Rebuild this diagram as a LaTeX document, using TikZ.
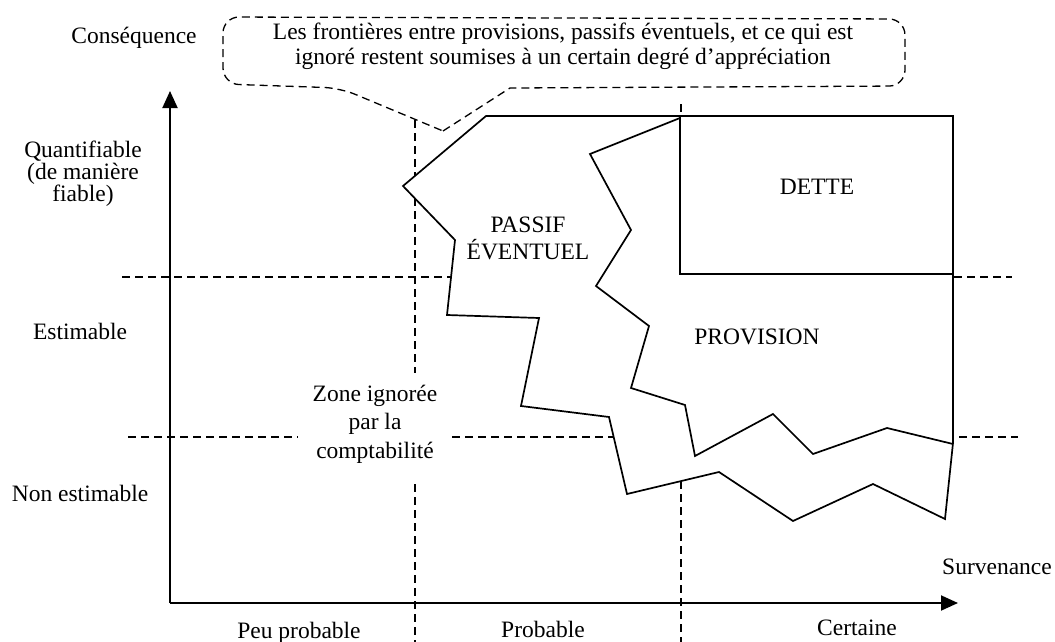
\documentclass[tikz,border=0pt]{standalone}
\usepackage{fontspec}
\setmainfont{Liberation Serif}
\usetikzlibrary{arrows.meta}

\begin{document}
\begin{tikzpicture}[x=1pt,y=-1pt,
	  every node/.style={font=\fontsize{23.5}{21.5}\selectfont, align=center},
	  limite/.style={dash pattern=on 8pt off 5pt, line width=1.3pt},
	  contour/.style={line width=1.7pt, line join=miter},
	  axe/.style={line width=1.9pt, -{Triangle[length=17pt,width=15pt]}}]

	\useasboundingbox (0,0) rectangle (1055,642);

	\draw[limite] (122,277) -- (1012,277);
	\draw[limite] (128,437) -- (298,437);
	\draw[limite] (452,437) -- (1018,437);
	\draw[limite] (415,120) -- (415,373);
	\draw[limite] (415,484) -- (415,642);
	\draw[limite] (681,104) -- (681,642);

	\draw[contour, fill=white] (486,116) -- (953,116) -- (953,443) -- (945,519) -- (873,484) -- (793,521) -- (719,472) -- (627,494) -- (609,417) -- (521,406) -- (539,318) -- (447,315) -- (455,240) -- (403,186) -- cycle;
	\draw[contour] (680,118) -- (590,154) -- (631,230) -- (596,286) -- (649,326) -- (631,388) -- (685,405) -- (695,456) -- (773,414) -- (813,454) -- (887,428) -- (953,444);
	\draw[contour] (680,116) rectangle (953,274);
	\draw[line width=2.5pt] (680,116) -- (680,274) -- (953,274);

	\draw[limite] (443,131) -- (510,88) [rounded corners=16pt] -- (905,86) -- (905,19) -- (223,17) -- (223,84) -- (340,88) [sharp corners] -- (443,131);
	\node[font=\fontsize{23.5}{25}\selectfont] (bulle) at (563,46) {Les frontières entre provisions, passifs éventuels, et ce qui est\\ignoré restent soumises à un certain degré d’appréciation};

	\coordinate (O) at (170,603);
	\coordinate (yhaut) at (170,91);
	\coordinate (xfin) at (958,603);
	\draw[axe] (O) -- (yhaut);
	\draw[axe] (O) -- (xfin);

	\node (conseq) at (134,38) {Conséquence};
	\node (quantif) at (83,174) {Quantifiable\\(de manière\\fiable)};
	\node (estim) at (80,331) {Estimable};
	\node (nonestim) at (80,493) {Non estimable};
	\node (survenance) at (997,567) {Survenance};
	\node (peuprob) at (299,633) {Peu probable};
	\node (probable) at (543,629) {Probable};
	\node (certaine) at (857,628) {Certaine};
	\node[font=\fontsize{23.5}{28.5}\selectfont] (zone) at (375,424) {Zone ignorée\\par la\\comptabilité};
	\node[font=\fontsize{23.5}{27}\selectfont] (passif) at (528,238) {PASSIF\\ÉVENTUEL};
	\node (provision) at (757,337) {PROVISION};
	\node (dette) at (817,187) {DETTE};
\end{tikzpicture}
\end{document}
